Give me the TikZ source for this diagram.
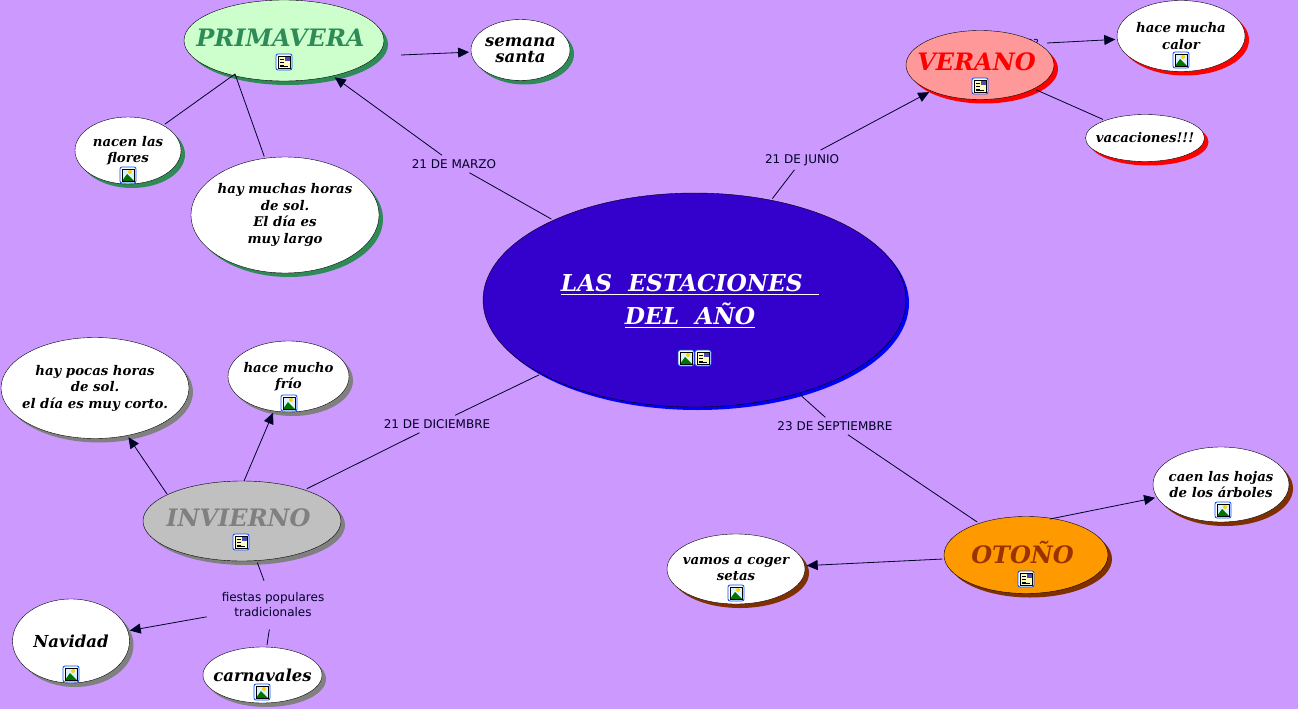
\documentclass[tikz,border=0pt]{standalone}
\usepackage{fontspec}
\setmainfont{DejaVu Serif}
\newfontfamily\labelfont{DejaVu Sans}
\usetikzlibrary{arrows.meta,shapes.geometric,shadows}
\definecolor{seagreenshade}{RGB}{46,139,87}
\definecolor{brownshade}{RGB}{128,48,0}
\definecolor{browntext}{RGB}{153,51,0}
\definecolor{indigofill}{RGB}{51,0,204}

\begin{document}
\begin{tikzpicture}[x=1pt,y=-1pt, every node/.style={font=\labelfont\fontsize{12}{15}\selectfont,text=black!85!blue,align=center},
    concept/.style={ellipse,draw=black,fill=white,inner sep=-30pt,outer sep=2pt,
      font=\bfseries\itshape\fontsize{13.3}{16.5}\selectfont,text=black},
    season/.style={concept,font=\bfseries\itshape\fontsize{24}{30}\selectfont,text depth=6pt,execute at end node=\hspace*{7pt}},
    linklabel/.style={inner xsep=3pt,inner ysep=4pt},
    conn/.style={draw=black!85!blue,line width=0.8pt},
    arrowconn/.style={conn,-{Triangle[length=11pt,width=10pt]}},
    iconimg/.pic={
      \draw[draw=blue!70!cyan,fill=white,rounded corners=2pt,line width=0.8pt] (-8,-8) rectangle (8,8);
      \fill[cyan!15] (-6,-6) rectangle (6,6);
      \fill[yellow!70!orange] (2,-3) circle (2);
      \fill[green!45!black] (-6,6) -- (-1,-1) -- (6,6) -- cycle;
      \draw[black,line width=0.5pt] (-6,-6) rectangle (6,6);
    },
    icondoc/.pic={
      \draw[draw=blue!70!cyan,fill=white,rounded corners=2pt,line width=0.8pt] (-8,-8) rectangle (8,8);
      \fill[yellow!25] (-6,-6) rectangle (6,6);
      \fill[blue!40!gray] (1,-6) rectangle (6,-1);
      \draw[black,line width=0.5pt] (-6,-6) rectangle (6,6);
      \foreach \y in {-3,0,3} { \draw[black,line width=0.6pt] (-4,\y) -- (0,\y); }
      \draw[black,line width=0.6pt] (-4,4.5) -- (4,4.5);
    }]
  \newcommand{\bigleaf}{\fontsize{16.5}{19}\selectfont}
  \newcommand{\leafnodes}[2]{
    \begin{scope}[every shadow/.style={fill=#1,opacity=1,shadow xshift=4pt,shadow yshift=-4pt}]
      \foreach \name/\x/\y/\w/\h/\txt in {#2} {
        \node[concept,drop shadow,minimum width=\w pt,minimum height=\h pt] (\name) at (\x,\y) {\txt};
      }
    \end{scope}
  }
  \useasboundingbox (0,0) rectangle (1298,709);
  \fill[fill={rgb,255:red,204;green,153;blue,255}] (0,0) rectangle (1298,709);

  \node[font=\labelfont\fontsize{11}{13}\selectfont] (hidden) at (1033,43) {??};

  \node[linklabel] (marzo) at (454,164) {21 DE MARZO};
  \node[linklabel] (junio) at (802,160) {21 DE JUNIO};
  \node[linklabel] (diciembre) at (437,424) {21 DE DICIEMBRE};
  \node[linklabel] (septiembre) at (835,426) {23 DE SEPTIEMBRE};
  \node[inner xsep=15pt,inner ysep=12pt] (fiestas) at (273,605) {fiestas populares\\tradicionales};

  \leafnodes{seagreenshade}{semana/520.5/50/99/61/{\bigleaf semana\\\bigleaf santa},
    nacen/128/150.5/106/67/{nacen las\\flores},
    muchas/285/215/188/116/{hay muchas horas\\de sol.\\El día es\\muy largo}}
  \leafnodes{red}{calor/1181/36/128/71/{hace mucha\\calor},
    vacaciones/1145/138/119/47/{vacaciones!!!}}
  \leafnodes{gray}{pocas/95/388/188/101/{hay pocas horas\\de sol.\\el día es muy corto.},
    frio/288.5/376.5/121/71/{hace mucho\\frío},
    navidad/71/641/117/84/{\bigleaf Navidad},
    carnavales/262.5/675/119/56/{\bigleaf carnavales}}
  \leafnodes{brownshade}{caen/1221/484.5/136/75/{caen las hojas\\de los árboles},
    setas/736/569/138/70/{vamos a coger\\setas}}

  \node[season,drop shadow={fill=seagreenshade,opacity=1,shadow xshift=4pt,shadow yshift=-4pt},fill={rgb,255:red,204;green,255;blue,204},
    text=seagreenshade,minimum width=200pt,minimum height=81pt] (primavera) at (284,40.5) {PRIMAVERA};
  \node[season,drop shadow={fill=red,opacity=1,shadow xshift=4pt,shadow yshift=-4pt},fill={rgb,255:red,255;green,153;blue,153},
    text=red,minimum width=148pt,minimum height=69pt] (verano) at (980,65) {VERANO};
  \node[season,drop shadow={fill=gray,opacity=1,shadow xshift=4pt,shadow yshift=-4pt},fill={rgb,255:red,192;green,192;blue,192},
    text=gray,minimum width=198pt,minimum height=80pt] (invierno) at (242,521) {INVIERNO};
  \node[season,drop shadow={fill=brownshade,opacity=1,shadow xshift=4pt,shadow yshift=-4pt},fill={rgb,255:red,255;green,153;blue,0},
    text=browntext,minimum width=164pt,minimum height=77pt] (otono) at (1026,555) {OTOÑO};
  \node[concept,drop shadow={fill=blue,opacity=1,shadow xshift=3pt,shadow yshift=-3pt},fill=indigofill,text=white,
    minimum width=423pt,minimum height=214pt] (central) at (694.5,300) {};
  \node[font=\bfseries\itshape\fontsize{23.3}{33}\selectfont,text=white] (title) at (690,301) {\underline{LAS\ \ ESTACIONES\ \ }\\\underline{DEL\ \ AÑO}};

  \coordinate (primlink) at (235,74);
  \coordinate (semlink) at (401,55);
  \coordinate (calorlink) at (1047,43);
  \coordinate (pocaslink) at (167,494);
  \coordinate (friolink) at (244,481);
  \coordinate (caenlink) at (1050,519);

  \draw[conn] (central) -- (marzo);
  \draw[arrowconn] (marzo) -- (primavera);
  \draw[conn] (central) -- (junio);
  \draw[arrowconn] (junio) -- (verano);
  \draw[conn] (central) -- (diciembre);
  \draw[conn] (diciembre) -- (invierno);
  \draw[conn] (central) -- (septiembre);
  \draw[conn] (septiembre) -- (otono);
  \draw[conn] (primlink) -- (nacen);
  \draw[conn] (primlink) -- (muchas);
  \draw[arrowconn] (semlink) -- (semana);
  \draw[arrowconn] (calorlink) -- (calor);
  \draw[conn] (verano) -- (vacaciones);
  \draw[arrowconn] (pocaslink) -- (pocas);
  \draw[arrowconn] (friolink) -- (frio);
  \draw[conn] (invierno) -- (fiestas);
  \draw[arrowconn] (fiestas) -- (navidad);
  \draw[conn] (fiestas) -- (carnavales);
  \draw[arrowconn] (caenlink) -- (caen);
  \draw[arrowconn] (otono) -- (setas);

  \foreach \x/\y in {128/175,1181/60,289/403,71/674,262/692,1223/510,736/593,686/358} {
    \pic at (\x,\y) {iconimg};
  }
  \foreach \x/\y in {284/62,980/86,241/542,1026/579,703/358} {
    \pic at (\x,\y) {icondoc};
  }
\end{tikzpicture}
\end{document}
